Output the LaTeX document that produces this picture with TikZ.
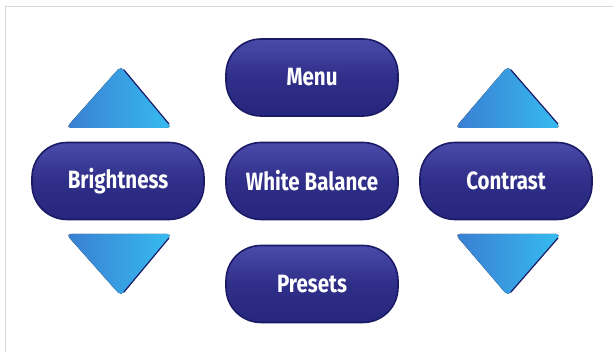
\documentclass[tikz,border=0pt]{standalone}
\usepackage{fontspec}
\newfontfamily\btnfont[FakeStretch=0.82]{Fira Sans}
\definecolor{btntop}{HTML}{4A4AAA}
\definecolor{btnbottom}{HTML}{26267E}
\definecolor{btnedge}{HTML}{1A1A66}
\definecolor{triL}{HTML}{3A7ED2}
\definecolor{triR}{HTML}{36BCF0}
\definecolor{frameline}{HTML}{D6D8DA}
\tikzset{
  button/.style={draw=btnedge, line width=1.6pt, rounded corners=35pt,
    minimum width=172pt, minimum height=77pt,
    top color=btntop, bottom color=btnbottom, middle color=btnbottom!75!btntop,
    text=white, font=\btnfont\bfseries\fontsize{25}{25}\selectfont},
  arrowtri/.style={left color=triL, right color=triR, rounded corners=5pt},
  triedge/.style={draw=btnedge, line width=1.2pt, line cap=round}
}
\begin{document}
\begin{tikzpicture}[x=1pt,y=1pt]
    \useasboundingbox (0,0) rectangle (613,352);
    \draw[frameline, line width=1pt] (5,0) -- (5,345) -- (613,345);
    \node[button] (menu) at (312,274.5) {Menu};
    \node[button] (bright) at (118,171) {Brightness};
    \node[button] (wb) at (312,171) {White Balance};
    \node[button] (contrast) at (506,171) {Contrast};
    \node[button] (presets) at (312,68) {Presets};
    \fill[arrowtri] (66,224) -- (121,286) -- (172,224) -- cycle;
    \draw[triedge] (124,282) -- (169,228);
    \fill[arrowtri] (66,118) -- (172,118) -- (121,56) -- cycle;
    \draw[triedge] (169,114) -- (124,60);
    \fill[arrowtri] (455,224) -- (508,286) -- (561,224) -- cycle;
    \draw[triedge] (511,282) -- (558,228);
    \fill[arrowtri] (455,118) -- (561,118) -- (508,56) -- cycle;
    \draw[triedge] (558,114) -- (511,60);
\end{tikzpicture}
\end{document}
